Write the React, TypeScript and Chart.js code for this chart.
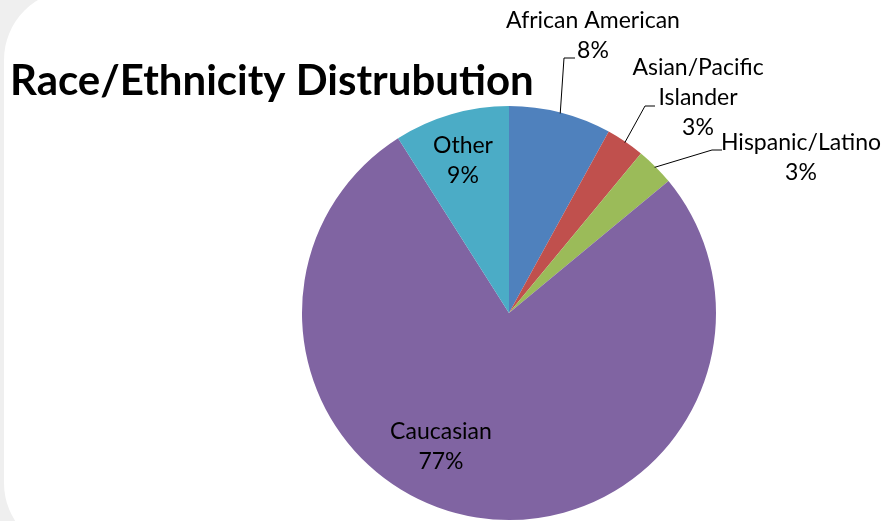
import React, { useEffect, useRef } from "react";
import { Chart, registerables } from "chart.js";

Chart.register(...registerables);

const categories = ["African American", "Asian/Pacific Islander", "Hispanic/Latino", "Caucasian", "Other"];
const values = [8, 3, 3, 77, 9];
const colors = ["#4F81BD", "#C0504D", "#9BBB59", "#8064A2", "#4BACC6"];
const titleText = "Race/Ethnicity Distrubution";

const FONT_FAMILY = "Lato, 'Open Sans', sans-serif";
const LABEL_SIZE = 23;
const LINE_H = 30;

// label placement (layout only)
const labelLayout = [
  { lines: ["African American"], x: 593, y: 21, leader: [[564, 58], [575, 58]] },
  { lines: ["Asian/Pacific", "Islander"], x: 698, y: 68, leader: [[645, 106], [655, 106]] },
  { lines: ["Hispanic/Latino"], x: 801, y: 143, leader: [[712, 150], [722, 150]] },
  { lines: ["Caucasian"], x: 441, y: 432 },
  { lines: ["Other"], x: 463, y: 146 },
];

const labelPlugin = {
  id: "pieLabels",
  afterDatasetsDraw(chart: any) {
    const ctx = chart.ctx;
    const meta = chart.getDatasetMeta(0);
    const data = chart.data.datasets[0].data as number[];
    const total = data.reduce((a: number, b: number) => a + b, 0);
    ctx.save();
    // title
    ctx.fillStyle = "#000";
    ctx.font = `bold 42px ${FONT_FAMILY}`;
    ctx.textAlign = "left";
    ctx.textBaseline = "alphabetic";
    ctx.fillText(titleText, 10, 95);

    meta.data.forEach((arc: any, i: number) => {
      const lay = labelLayout[i];
      if (!lay) return;
      const pct = Math.round((data[i] / total) * 100) + "%";
      const lines = [...lay.lines, pct];
      ctx.font = `${LABEL_SIZE}px ${FONT_FAMILY}`;
      ctx.fillStyle = "#000";
      ctx.textAlign = "center";
      ctx.textBaseline = "middle";
      lines.forEach((t, k) => ctx.fillText(t, lay.x, lay.y + k * LINE_H));
      if (lay.leader) {
        const { x, y, startAngle, endAngle, outerRadius } = arc.getProps(
          ["x", "y", "startAngle", "endAngle", "outerRadius"],
          true
        );
        const mid = (startAngle + endAngle) / 2;
        const r = outerRadius - 1;
        ctx.strokeStyle = "#000";
        ctx.lineWidth = 1;
        ctx.beginPath();
        ctx.moveTo(x + Math.cos(mid) * r, y + Math.sin(mid) * r);
        lay.leader.forEach((p: number[]) => ctx.lineTo(p[0], p[1]));
        ctx.stroke();
      }
    });
    ctx.restore();
  },
};

export default function App() {
  const ref = useRef<HTMLCanvasElement>(null);
  useEffect(() => {
    if (!ref.current) return;
    const chart = new Chart(ref.current, {
      type: "pie",
      data: {
        labels: categories,
        datasets: [
          {
            data: values,
            backgroundColor: colors,
            borderWidth: 0,
          },
        ],
      },
      options: {
        animation: false,
        responsive: false,
        devicePixelRatio: 1,
        layout: { padding: { left: 302, right: 172, top: 106, bottom: 1 } },
        plugins: {
          legend: { display: false },
          tooltip: { enabled: false },
          title: { display: false },
        },
      },
      plugins: [labelPlugin],
    });
    return () => chart.destroy();
  }, []);

  return (
    <div
      style={{
        position: "absolute",
        left: 0,
        top: 0,
        width: 888,
        height: 521,
        overflow: "hidden",
        background: "#efefef",
      }}
    >
      <div
        style={{
          position: "absolute",
          left: 4,
          top: -10,
          width: 960,
          height: 563,
          borderRadius: 70,
          background: "#ffffff",
        }}
      />
      <canvas ref={ref} width={888} height={521} style={{ position: "absolute", left: 0, top: 0 }} />
    </div>
  );
}
